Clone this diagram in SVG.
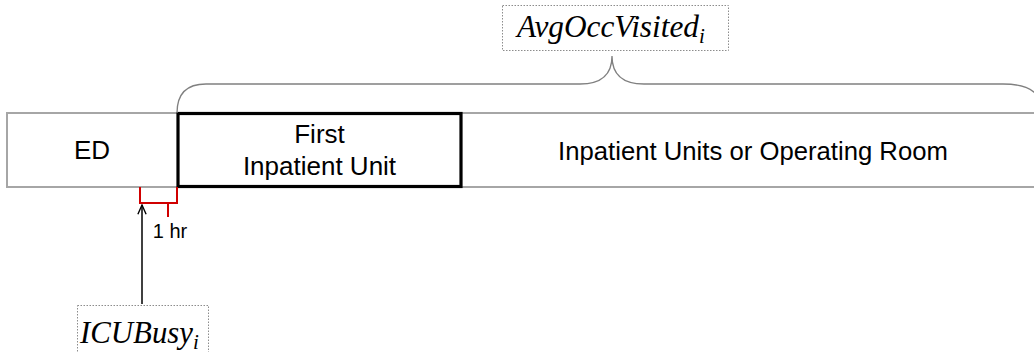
<svg xmlns="http://www.w3.org/2000/svg" width="1034" height="352" viewBox="0 0 1034 352">
<defs>
<style>
.lbl{font-family:"Liberation Sans","Open Sans",Arial,sans-serif;fill:#000;text-anchor:middle}
.math{font-family:"Liberation Serif","DejaVu Serif",serif;font-style:italic;fill:#000}
.note{fill:#fff;stroke:#8c8c8c;stroke-width:1;stroke-dasharray:1.5 1.5}
.red{fill:none;stroke:#d00000;stroke-width:2}
</style>
<marker id="arr" viewBox="0 0 12 12" refX="11" refY="6" markerWidth="11" markerHeight="11" markerUnits="userSpaceOnUse" orient="auto">
<path d="M1,1.5 L11,6 L1,10.5" fill="none" stroke="#000" stroke-width="1.5"/>
</marker>
</defs>
<rect width="1034" height="352" fill="#fff"/>
<g id="strip">
<rect x="7" y="113" width="1050" height="74" fill="#fff" stroke="#a6a6a6" stroke-width="2"/>
</g>
<g id="ed">
<text class="lbl" x="92" y="159" font-size="26">ED</text>
</g>
<g id="first-unit">
<rect x="178" y="113.5" width="283" height="73" fill="none" stroke="#000" stroke-width="3.2"/>
<text class="lbl" x="319.5" y="143" font-size="26">First</text>
<text class="lbl" x="319.5" y="175" font-size="26">Inpatient Unit</text>
</g>
<g id="other-units">
<text class="lbl" x="753" y="160" font-size="25.7">Inpatient Units or Operating Room</text>
</g>
<g id="connectors">
<path d="M177,113 Q177,84 206,84 L580,84 Q612,84 612,56 Q612,84 644,84 L1003,84 Q1043,84 1043,113" fill="none" stroke="#808080" stroke-width="1.3"/>
<path class="red" d="M140,187 V203 H177 V187 M168,203 V217"/>
<line x1="142" y1="304" x2="142" y2="205" stroke="#000" stroke-width="1.5" marker-end="url(#arr)"/>
</g>
<g id="one-hr">
<text class="lbl" x="170" y="238" font-size="20">1 hr</text>
</g>
<g id="avgocc">
<rect class="note" x="502.5" y="5.5" width="226" height="45"/>
<text class="math" x="517" y="37" font-size="31"><tspan textLength="182" lengthAdjust="spacingAndGlyphs">AvgOccVisited</tspan><tspan font-size="21" dy="6">i</tspan></text>
</g>
<g id="icubusy">
<rect class="note" x="77.5" y="305.5" width="131" height="60"/>
<text class="math" x="80" y="343" font-size="31"><tspan textLength="113" lengthAdjust="spacingAndGlyphs">ICUBusy</tspan><tspan font-size="21" dy="6">i</tspan></text>
</g>
</svg>
